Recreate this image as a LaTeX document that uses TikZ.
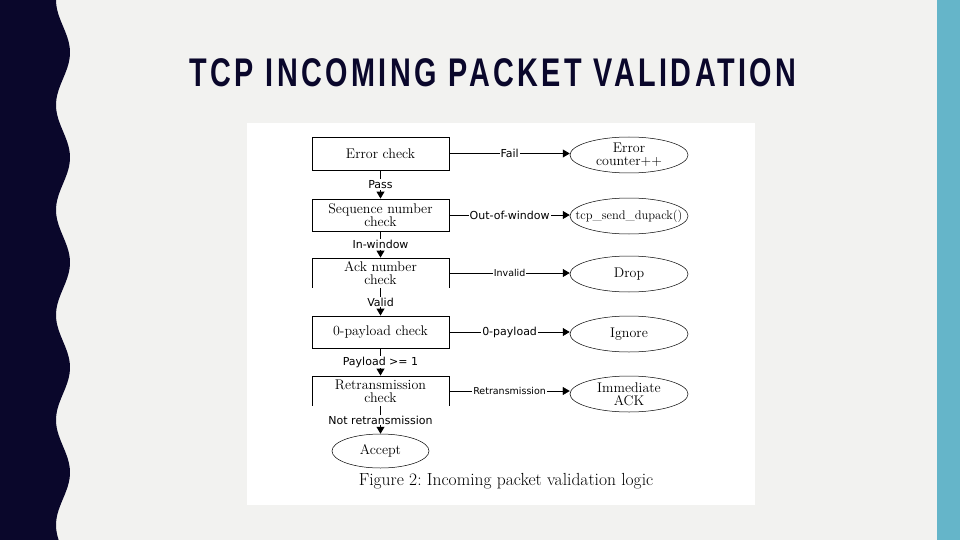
\documentclass[tikz,border=0pt]{standalone}
\usepackage{fontspec}
\newfontfamily\titlefont[LetterSpace=12]{Liberation Sans}
\newfontfamily\labfont{DejaVu Sans}
\usetikzlibrary{arrows.meta,shapes.geometric}
\definecolor{navy}{HTML}{0A072B}
\definecolor{teal}{HTML}{65B5C9}
\definecolor{bg}{HTML}{F2F2F0}
\tikzset{
  x=1pt,y=-1pt,
  box/.style={draw,line width=0.9pt,minimum width=137pt,inner sep=0pt,align=center,font=\fontsize{14}{13}\selectfont},
  oval/.style={draw,ellipse,line width=0.5pt,minimum width=118pt,minimum height=36pt,inner sep=0pt,align=center,font=\fontsize{14}{13}\selectfont},
  lab/.style={fill=white,inner sep=1pt,font=\labfont\fontsize{11}{11}\selectfont},
  arr/.style={line width=0.9pt,-{Triangle[length=7pt,width=8pt]}},
}
\begin{document}
\begin{tikzpicture}
\useasboundingbox (0,0) rectangle (960,540);
\fill[bg] (0,0) rectangle (960,540);
\fill[teal] (937,0) rectangle (960,540);
\fill[navy] (0,0) -- plot[domain=0:540,samples=160,smooth] ({63-7*cos(\x/105*360)},\x) -- (0,540) -- cycle;
\node[font=\titlefont\bfseries\fontsize{40}{40}\selectfont,text=navy,xscale=0.72] (title) at (493,73) {TCP INCOMING PACKET VALIDATION};
\fill[white] (247,123) rectangle (755,505);
\node[box,minimum height=33pt] (b1) at (380.5,153.5) {Error check};
\node[box,minimum height=32pt] (b2) at (380.5,215) {Sequence number\\check};
\node[box,minimum height=30pt] (b3) at (380.5,273) {Ack number\\check};
\node[box,minimum height=32pt] (b4) at (380.5,332) {0-payload check};
\node[box,minimum height=30pt] (b5) at (380.5,391) {Retransmission\\check};
\fill[white] (310,287.5) rectangle (451,291);
\fill[white] (310,405.5) rectangle (451,409);
\node[oval] (e1) at (629,155) {Error\\counter++};
\node[oval,inner xsep=-12pt,font=\fontsize{12.5}{13}\selectfont] (e2) at (629,216) {tcp\_send\_dupack()};
\node[oval] (e3) at (629,274) {Drop};
\node[oval] (e4) at (629,334) {Ignore};
\node[oval] (e5) at (629,394) {Immediate\\ACK};
\node[oval,minimum width=97pt,minimum height=34pt] (acc) at (380.5,451) {Accept};
\foreach \a/\b/\t in {b1/b2/Pass,b2/b3/In-window,b3/b4/Valid,b4/b5/{Payload >= 1},b5/acc/Not retransmission}
  \draw[arr] (\a.south) -- node[lab]{\t} (\b.north);
\draw[arr] (b1.east) -- node[lab]{Fail} (b1.east -| e1.west);
\draw[arr] (b2.east) -- node[lab]{Out-of-window} (b2.east -| e2.west);
\draw[arr] (b3.east) -- node[lab,font=\labfont\fontsize{9.5}{10}\selectfont]{Invalid} (b3.east -| e3.west);
\draw[arr] (b4.east) -- node[lab]{0-payload} (b4.east -| e4.west);
\draw[arr,line width=0.4pt] (b5.east) -- node[lab,font=\labfont\fontsize{9.5}{10}\selectfont]{Retransmission} (b5.east -| e5.west);
\node[font=\fontsize{17.5}{17.5}\selectfont] (cap) at (506,481) {Figure 2:\ Incoming packet validation logic};
\end{tikzpicture}
\end{document}
